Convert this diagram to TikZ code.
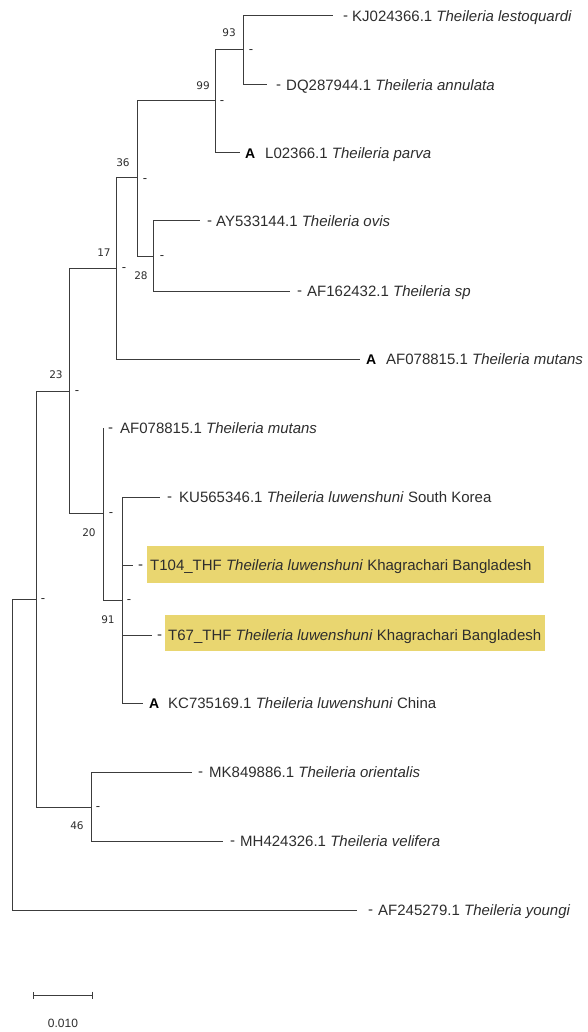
\documentclass[tikz,border=0pt]{standalone}
\usepackage{fontspec}
\setmainfont{Liberation Sans}
\newfontfamily\bsfont{DejaVu Sans}
\usetikzlibrary{arrows.meta}
\definecolor{linec}{RGB}{60,60,60}
\definecolor{txtc}{RGB}{45,45,45}
\definecolor{hl}{RGB}{233,214,112}
\begin{document}
\begin{tikzpicture}[x=1pt,y=-1pt,
  br/.style={draw=linec,line width=1pt},
  leaf/.style={anchor=base west,inner sep=0pt,text=txtc,font=\fontsize{15}{18}\selectfont},
  mkdash/.style={anchor=base west,inner sep=0pt,text=txtc,font=\fontsize{15}{18}\selectfont},
  mkA/.style={anchor=base west,inner sep=0pt,text=black,font=\fontsize{14}{16}\selectfont\bfseries},
  boot/.style={anchor=center,inner sep=0pt,text=txtc,font=\bsfont\fontsize{10.5}{12}\selectfont},
  ndash/.style={anchor=base,inner sep=0pt,text=txtc,font=\fontsize{13}{14}\selectfont},
  hlbox/.style={fill=hl,draw=none}
]
\useasboundingbox (0,0) rectangle (587,1032);

% highlight boxes
\fill[hlbox] (147,546) rectangle (544,583);
\fill[hlbox] (165,615) rectangle (545,651);

% internal nodes
\coordinate (n93) at (243,50);
\coordinate (n99) at (215,101);
\coordinate (n28) at (153,256);
\coordinate (n36) at (137,178);
\coordinate (n17) at (116,268);
\coordinate (n91) at (122,600);
\coordinate (n20) at (103,513);
\coordinate (n23) at (69,391);
\coordinate (n46) at (91,807);
\coordinate (nB) at (36,599);
\coordinate (root) at (12,599);
% tips
\coordinate (t1) at (333,16);
\coordinate (t2) at (267,85);
\coordinate (t3) at (240,153);
\coordinate (t4) at (200,221);
\coordinate (t5) at (290,291);
\coordinate (t6) at (360,359);
\coordinate (t7) at (103,428);
\coordinate (t8) at (160,497);
\coordinate (t9) at (133,565);
\coordinate (t10) at (152,635);
\coordinate (t11) at (143,703);
\coordinate (t12) at (192,772);
\coordinate (t13) at (223,841);
\coordinate (t14) at (357,910);

% branches
\draw[br] (n93) |- (t1);
\draw[br] (n93) |- (t2);
\draw[br] (n99) |- (n93);
\draw[br] (n99) |- (t3);
\draw[br] (n28) |- (t4);
\draw[br] (n28) |- (t5);
\draw[br] (n36) |- (n99);
\draw[br] (n36) |- (n28);
\draw[br] (n17) |- (n36);
\draw[br] (n17) |- (t6);
\draw[br] (n23) |- (n17);
\draw[br] (n23) |- (n20);
\draw[br] (n20) |- (t7);
\draw[br] (n20) |- (n91);
\draw[br] (n91) |- (t8);
\draw[br] (n91) |- (t9);
\draw[br] (n91) |- (t10);
\draw[br] (n91) |- (t11);
\draw[br] (nB) |- (n23);
\draw[br] (nB) |- (n46);
\draw[br] (n46) |- (t12);
\draw[br] (n46) |- (t13);
\draw[br] (root) |- (nB);
\draw[br] (root) |- (t14);

% tip markers
\node[mkdash] (m1) at (343,20.3) {-};
\node[mkdash] (m2) at (276,89.3) {-};
\node[mkA] (m3) at (245,158.4) {A};
\node[mkdash] (m4) at (207,225.3) {-};
\node[mkdash] (m5) at (297,295.3) {-};
\node[mkA] (m6) at (366,364.4) {A};
\node[mkdash] (m7) at (108,432.3) {-};
\node[mkdash] (m8) at (167,501.3) {-};
\node[mkdash] (m9) at (138,569.3) {-};
\node[mkdash] (m10) at (157,639.3) {-};
\node[mkA] (m11) at (149,708.4) {A};
\node[mkdash] (m12) at (198,776.3) {-};
\node[mkdash] (m13) at (230,845.3) {-};
\node[mkdash] (m14) at (368,914.3) {-};

% tip labels
\node[leaf] (l1) at (352,21.4) {KJ024366.1 \textit{Theileria lestoquardi}};
\node[leaf] (l2) at (286,90.4) {DQ287944.1 \textit{Theileria annulata}};
\node[leaf] (l3) at (265,158.4) {L02366.1 \textit{Theileria parva}};
\node[leaf] (l4) at (216,226.4) {AY533144.1 \textit{Theileria ovis}};
\node[leaf] (l5) at (307,296.4) {AF162432.1 \textit{Theileria sp}};
\node[leaf] (l6) at (386,364.4) {AF078815.1 \textit{Theileria mutans}};
\node[leaf] (l7) at (120,433.4) {AF078815.1 \textit{Theileria mutans}};
\node[leaf] (l8) at (179,502.4) {KU565346.1 \textit{Theileria luwenshuni} South Korea};
\node[leaf] (l9) at (150,570.4) {T104\_THF \textit{Theileria luwenshuni} Khagrachari Bangladesh};
\node[leaf] (l10) at (168,640.4) {T67\_THF \textit{Theileria luwenshuni} Khagrachari Bangladesh};
\node[leaf] (l11) at (168,708.4) {KC735169.1 \textit{Theileria luwenshuni} China};
\node[leaf] (l12) at (209,777.4) {MK849886.1 \textit{Theileria orientalis}};
\node[leaf] (l13) at (240,846.4) {MH424326.1 \textit{Theileria velifera}};
\node[leaf] (l14) at (378,915.4) {AF245279.1 \textit{Theileria youngi}};

% bootstrap values
\node[boot] (b93) at (229,33) {93};
\node[boot] (b99) at (203,86) {99};
\node[boot] (b36) at (123,163) {36};
\node[boot] (b17) at (104,253) {17};
\node[boot] (b28) at (141,276) {28};
\node[boot] (b23) at (56,375) {23};
\node[boot] (b20) at (89,533) {20};
\node[boot] (b91) at (108,620) {91};
\node[boot] (b46) at (77,826) {46};

% node dashes
\node[ndash] (d93) at (251,53.5) {-};
\node[ndash] (d99) at (222,104.5) {-};
\node[ndash] (d36) at (145,182.5) {-};
\node[ndash] (d28) at (162,259.5) {-};
\node[ndash] (d17) at (124,271.5) {-};
\node[ndash] (d23) at (77,394.5) {-};
\node[ndash] (d20) at (111,516.5) {-};
\node[ndash] (d91) at (129,603.5) {-};
\node[ndash] (d46) at (98,810.5) {-};
\node[ndash] (dB) at (43,602.5) {-};

% scale bar
\coordinate (s1) at (33,995);
\coordinate (s2) at (93,995);
\draw[br,{Bar[width=7pt]}-{Bar[width=7pt]}] (s1) -- (s2);
\node[anchor=center,inner sep=0pt,text=txtc,font=\fontsize{12}{14}\selectfont] (scale) at (63,1023) {0.010};
\end{tikzpicture}
\end{document}
